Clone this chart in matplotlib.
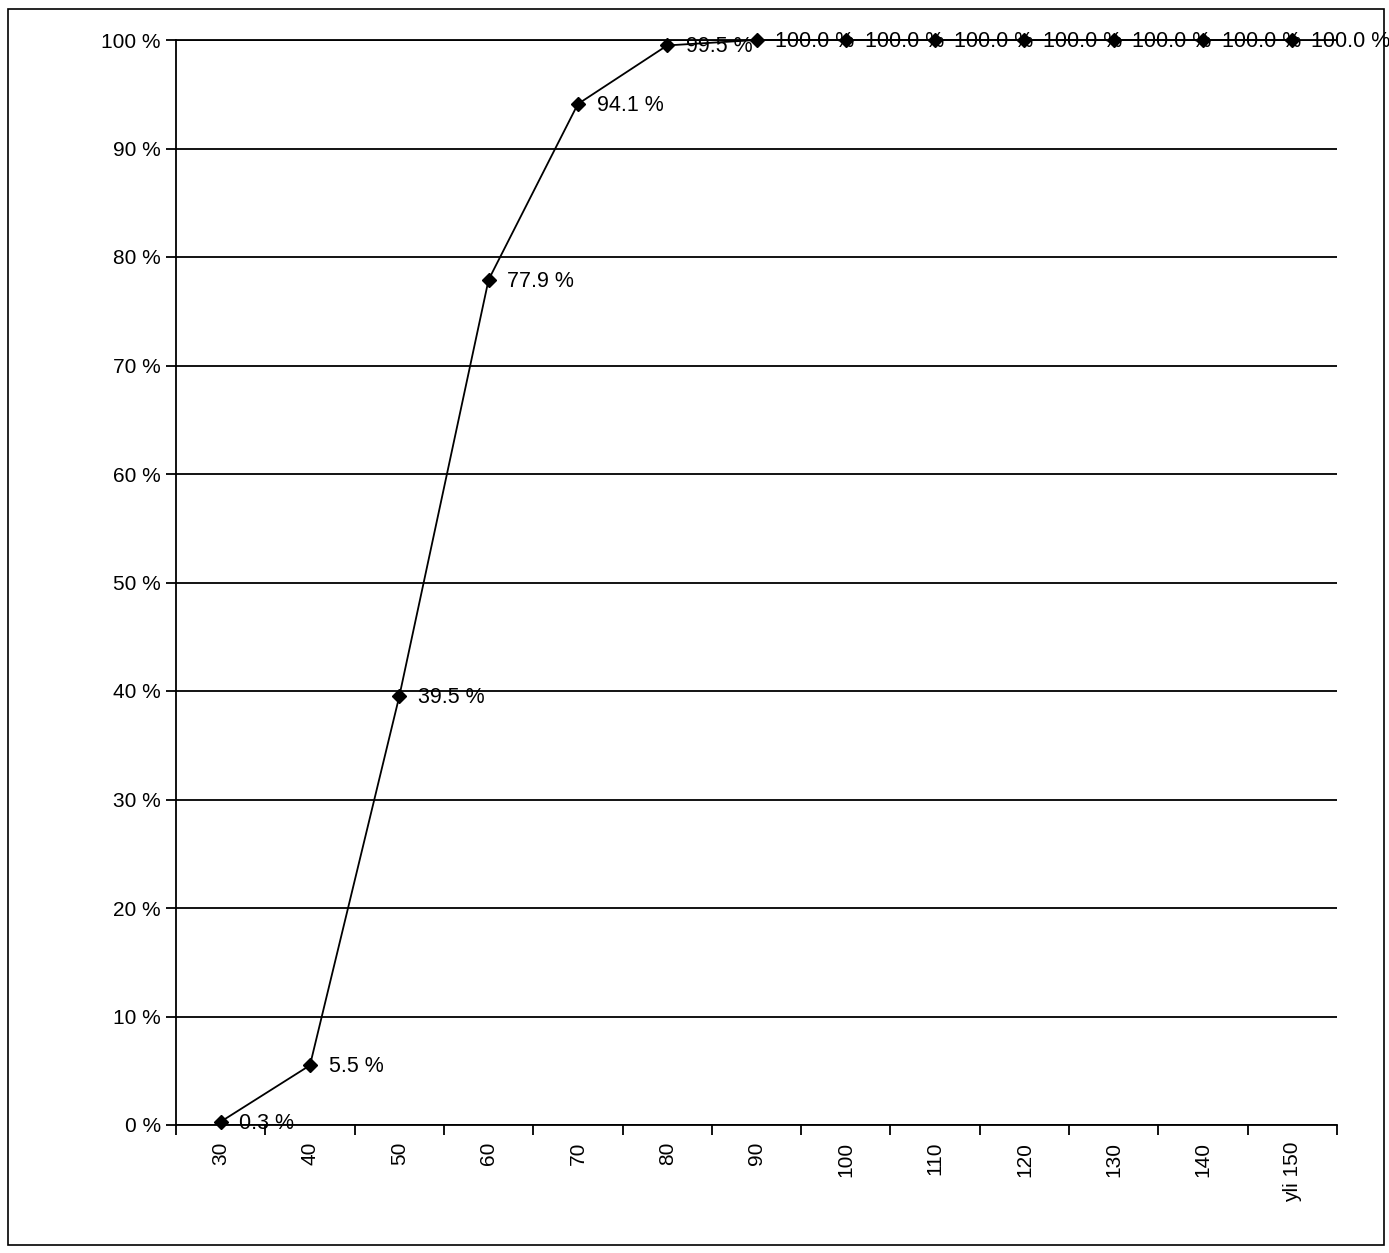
import numpy as np
import matplotlib.pyplot as plt
from matplotlib.patches import Rectangle
from matplotlib.ticker import FixedLocator, FuncFormatter

plt.rcParams['font.family'] = ['Liberation Sans', 'DejaVu Sans']

# cumulative share per speed class
categories = ['30', '40', '50', '60', '70', '80', '90', '100', '110', '120', '130', '140', 'yli 150']
cum_share = [0.3, 5.5, 39.5, 77.9, 94.1, 99.5, 100.0, 100.0, 100.0, 100.0, 100.0, 100.0, 100.0]
y_ticks = [0, 10, 20, 30, 40, 50, 60, 70, 80, 90, 100]

W, H = 1389, 1253
fig = plt.figure(figsize=(W / 100, H / 100), dpi=100)
ax = fig.add_axes([176 / W, 1 - 1125 / H, (1337 - 176) / W, (1125 - 40) / H])

x = np.arange(len(categories))
ax.plot(x, cum_share, color='black', linewidth=1.3, marker='D', markersize=7,
        markerfacecolor='black', markeredgecolor='black', zorder=3, clip_on=False)

for xi, v in zip(x, cum_share):
    ax.annotate(f'{v:.1f} %', (xi, v), xytext=(13.5, -1), textcoords='offset points',
                ha='left', va='center', fontsize=15.5, zorder=4, annotation_clip=False)

ax.set_xlim(-0.5, len(categories) - 0.5)
ax.set_ylim(0, 100)
ax.yaxis.set_major_locator(FixedLocator(y_ticks))
ax.yaxis.set_major_formatter(FuncFormatter(lambda v, p: f'{v:.0f} %'))
ax.grid(axis='y', color='black', linewidth=1.3)
ax.axhline(100, color='black', linewidth=1.3, clip_on=False, zorder=1)
ax.set_axisbelow(True)

ax.set_xticks(x)
ax.set_xticklabels(categories, rotation=90, fontsize=15)
ax.set_xticks(np.arange(-0.5, len(categories)), minor=True)
ax.tick_params(axis='x', which='major', length=0, pad=12)
ax.tick_params(axis='x', which='minor', length=7, width=1.3, direction='out')
ax.tick_params(axis='y', length=7, width=1.3, direction='out', labelsize=15, pad=4)

for side in ['top', 'right']:
    ax.spines[side].set_visible(False)
for side in ['left', 'bottom']:
    ax.spines[side].set_linewidth(1.3)

# outer chart frame
fig.patches.append(Rectangle((8 / W, 8 / H), (1384 - 8) / W, (1244 - 8) / H,
                             transform=fig.transFigure, fill=False,
                             edgecolor='black', linewidth=1.2))

fig.savefig('out.png', dpi=100, facecolor='white')
